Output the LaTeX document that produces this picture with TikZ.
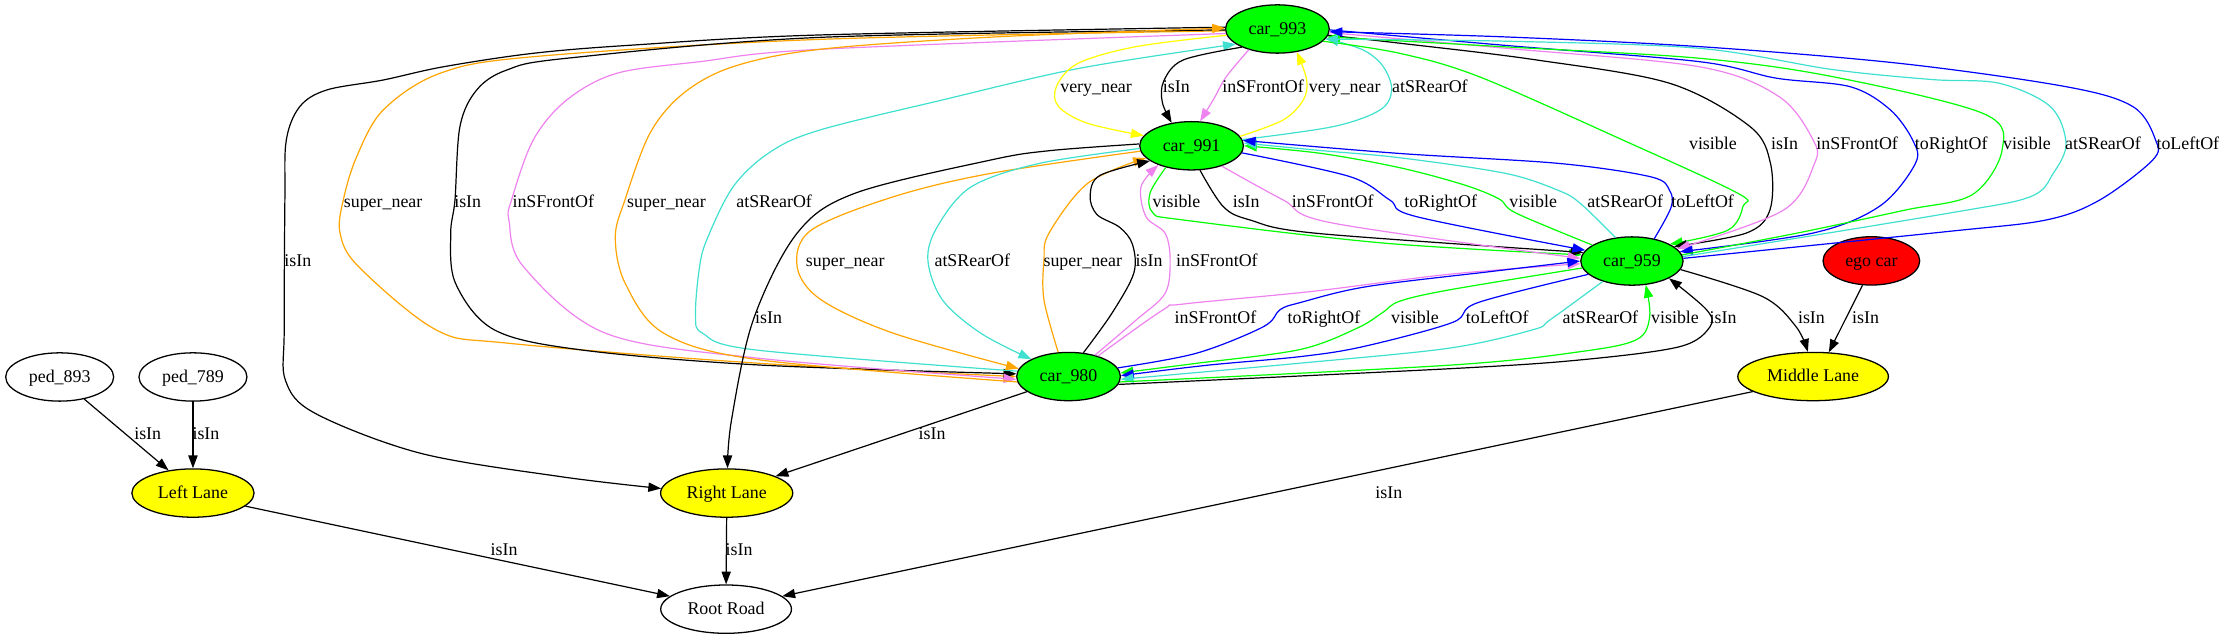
\documentclass[tikz,border=0pt]{standalone}
\usepackage{fontspec}
\setmainfont{Liberation Serif}
\usetikzlibrary{shapes.geometric,arrows.meta}
\definecolor{gvgreen}{HTML}{00FF00}
\definecolor{gvred}{HTML}{FF0000}
\definecolor{gvyellow}{HTML}{FFFF00}
\definecolor{gvorange}{HTML}{FFA500}
\definecolor{gvviolet}{HTML}{EE82EE}
\definecolor{gvturq}{HTML}{40E0D0}
\definecolor{gvblue}{HTML}{0000FF}
\tikzset{
  gnode/.style={ellipse, draw=black, line width=0.9pt, inner sep=0pt, minimum height=34pt,
    text height=9pt, text depth=1.5pt, font=\fontsize{12.6}{14}\selectfont},
  carnode/.style={gnode, fill=gvgreen, minimum width=73pt},
  ge/.style={line width=0.85pt, -{Triangle[length=9pt,width=6.5pt]}},
  elabel/.style={anchor=base west, inner sep=0pt, font=\fontsize{12.6}{14}\selectfont},
}
\newcommand\gedge[2]{\draw[ge,color=#1] plot[smooth,tension=0.55] coordinates {#2};}
\newcommand\elab[4]{\node[elabel] (#1) at (#2,#3) {#4};}
\begin{document}
\begin{tikzpicture}[x=1pt,y=-1pt]
\useasboundingbox (0,0) rectangle (1568,450);
% nodes
\node[carnode] (c993) at (899,20.4) {car\_993};
\node[carnode] (c991) at (838.6,102.6) {car\_991};
\node[carnode, minimum width=72pt] (c959) at (1148.5,183.7) {car\_959};
\node[gnode, fill=gvred, minimum width=68pt] (ego) at (1317,183.6) {ego car};
\node[carnode] (c980) at (752,265) {car\_980};
\node[gnode, fill=gvyellow, minimum width=106pt] (ml) at (1276,265) {Middle Lane};
\node[gnode, fill=white, minimum width=76pt] (p893) at (42,265.3) {ped\_893};
\node[gnode, fill=white, minimum width=76pt] (p789) at (135.8,265.3) {ped\_789};
\node[gnode, fill=gvyellow, minimum width=86pt] (ll) at (135.8,347) {Left Lane};
\node[gnode, fill=gvyellow, minimum width=93pt] (rl) at (511.4,347) {Right Lane};
\node[gnode, fill=white, minimum width=92pt] (rr) at (511,428.7) {Root Road};

% ---- car_993 <-> car_980 / Right Lane (left loops)
\gedge{black}{(c993.178) (577,24.6) (445.7,31.7) (375.3,37.5) (312,47) (269.7,56.3) (230,63.3) (211,75) (201.5,98.5) (200.5,140) (200,232) (201,268) (222,291) (296,319) (395,335.5) (rl.176)}
\gedge{gvorange}{(c993.182) (577,27.7) (375.3,39.9) (309.6,51.6) (269.7,77.4) (251,110.3) (241.6,140.7) (239.3,164) (252.4,187.7) (307,232.2) (358.2,241.6) (534.8,255.7) (c980.180)}
\gedge{black}{(c993.181) (577,26.3) (398.8,41) (356.6,49.3) (335.5,63.3) (323.7,89) (320.2,140.7) (317.2,164.2) (320.6,199.4) (348,232.2) (409.4,246.3) (534.8,256.9) (c980.177)}
\gedge{gvviolet}{(c993.185) (577,34.7) (492.6,43.4) (434,51.6) (398.8,70.4) (375.3,98.5) (360,140.7) (358.2,155) (368.4,187.7) (426.4,234.6) (534.8,252.2) (c980.183)}
\gedge{gvorange}{(c980.186) (534.8,253.3) (467.3,234.6) (440,199.4) (433,167) (439.8,140.7) (457.4,93.8) (480.9,65.7) (516,46.9) (577,34.7) (700,26) (c993.179)}
\gedge{gvturq}{(c980.174) (532,246.3) (494.6,234.6) (489.5,222) (492,190) (497.3,169) (516,131.4) (542,107) (577,91.5) (663,70.4) (760,48) (c993.200)}

% ---- car_993 <-> car_991
\gedge{gvyellow}{(c993.187) (799.6,32.8) (758.6,44.6) (743.4,61) (745,75) (765.5,86.8) (c991.168)}
\gedge{black}{(c993.207) (832.7,42.2) (819,57) (818,72) (c991.131)}
\gedge{gvviolet}{(c993.216) (863,54) (854,70) (c991.71)}
\gedge{gvyellow}{(c991.11) (903.1,84.4) (917.2,70.4) (919.6,56.3) (c993.310)}
\gedge{gvturq}{(c991.7) (938.3,89.1) (971.2,77.4) (979.4,63.3) (973.5,46.9) (959.4,35.2) (c993.349)}

% ---- car_991 -> Right Lane, car_991 <-> car_980
\gedge{black}{(c991.178) (739,106) (697.3,112.6) (601.7,136) (560.9,164.2) (530.1,225.2) (514.8,295.6) (rl.88)}
\gedge{gvorange}{(c991.186) (697.3,122) (629,138.4) (571,161.9) (561,187.7) (577.9,211) (629,234.6) (c980.171)}
\gedge{gvorange}{(c980.113) (734.7,211) (734.7,183) (738.2,164.2) (765.5,129) (c991.195)}
\gedge{gvturq}{(c991.183) (731.4,115) (683.6,131.4) (659.7,159.5) (653,183) (663.2,211) (690.4,234.6) (c980.155)}
\gedge{black}{(c980.58) (782.5,220.5) (797.9,192.3) (797,172) (788,160) (772,151) (767.2,138) (774,123.5) (c991.200)}
\gedge{gvviolet}{(c980.39) (799.6,225.2) (820,206.4) (823.5,183) (820,164.2) (806.5,152.5) (803,131.4) (c991.210)}

% ---- car_991 <-> car_959
\gedge{gvgreen}{(c991.220) (809.3,136) (811.6,150) (832.6,154.8) (973,171) (c959.173)}
\gedge{black}{(c991.289) (860.9,145.4) (879.7,154.8) (926.6,164.2) (c959.170)}
\gedge{gvviolet}{(c991.326) (903,140.7) (938,157) (c959.177)}
\gedge{gvblue}{(c991.352) (950,124.3) (978,140.7) (997,152.5) (c959.167)}
\gedge{gvgreen}{(c959.158) (1067,150) (1055,140) (1030,130) (985,118) (930,108) (c991.0)}
\gedge{gvturq}{(c959.125) (1112,143) (1096.7,134) (1059.5,122) (985,111) (930,106) (c991.3)}
\gedge{gvblue}{(c959.45) (1176,146) (1175,134) (1162,124.5) (1097,115) (985,108) (c991.6)}

% ---- car_993 <-> car_959 (right loops)
\gedge{gvgreen}{(c993.345) (985,37.5) (1041,54) (1142,98.5) (1223,136) (1226.7,145) (1216,162) (c959.24)}
\gedge{black}{(c993.353) (986,30.5) (1080,42) (1175,58.6) (1231.5,89) (1246,115) (1245.6,147.8) (1229,164) (c959.19)}
\gedge{gvviolet}{(c993.356) (1060,34) (1196,47) (1252,68) (1276,98.5) (1277,115) (1255,148) (c959.15)}
\gedge{gvblue}{(c993.359) (1060,32) (1196,43.4) (1250,55) (1302,61) (1330,77) (1346,98.5) (1348,115) (1323,145) (1276,164) (c959.11)}
\gedge{gvgreen}{(c959.7) (1264,164.2) (1340,148) (1388,137) (1409,105.6) (1396,80) (1290,54) (1196,41) (1060,33) (c993.351)}
\gedge{gvturq}{(c959.5) (1371.6,150) (1429,138.4) (1445,122) (1454,101) (1443,75) (1407,58.6) (1360,56) (1290,49) (1196,34) (1060,29) (c993.348)}
\gedge{gvblue}{(c959.3) (1370,163) (1440,154.8) (1477.8,140.7) (1515,112.6) (1517,98.5) (1501,75) (1454,61) (1337,44.6) (1196,32.8) (1060,26) (c993.357)}

% ---- car_980 <-> car_959
\gedge{gvviolet}{(c980.35) (818.6,218) (832.6,214) (924,205) (1020,193) (c959.183)}
\gedge{gvblue}{(c980.10) (842,248.6) (889,230) (900.8,218) (914.8,213) (962,201.7) (1050,191) (c959.180)}
\gedge{gvgreen}{(c959.188) (1020,204) (985,212) (973,220) (955,231) (914.8,246) (842,255.7) (c980.4)}
\gedge{gvblue}{(c959.197) (1040,213) (1022,227) (959,244) (914.8,251) (850,257) (c980.1)}
\gedge{gvturq}{(c959.215) (1091,225) (1079,232) (1020,245) (914.8,255.6) (c980.357)}
\gedge{gvgreen}{(c980.354) (1020,257) (1112,247.5) (1151.8,239) (1161,222.9) (c959.300)}
\gedge{black}{(c980.351) (1020,259.5) (1112,253.3) (1182,244) (1203.4,230) (1201,218) (c959.335)}

% ---- lanes and road
\gedge{black}{(c959.350) (1240.6,208.8) (1264,229.9) (ml.102)}
\draw[ge] (ego.250) -- (ml.57);
\draw[ge] (c980.200) -- (rl.19);
\draw[ge] (p893.318) -- (ll.137);
\draw[ge] (p789.south) -- (ll.north);
\draw[ge] (ll.346) -- (rr.167);
\draw[ge] (rl.south) -- (rr.north);
\draw[ge] (ml.194) -- (rr.13);

% ---- labels
\elab{a1}{746}{64.8}{very\_near}
\elab{a2}{818.2}{64.8}{isIn}
\elab{a3}{860}{64.8}{inSFrontOf}
\elab{a4}{921}{64.8}{very\_near}
\elab{a5}{979.5}{64.8}{atSRearOf}
\elab{b1}{1188.5}{105.3}{visible}
\elab{b2}{1246.3}{105.3}{isIn}
\elab{b3}{1278.1}{105.3}{inSFrontOf}
\elab{b4}{1347.5}{105.3}{toRightOf}
\elab{b5}{1409.5}{105.3}{visible}
\elab{b6}{1453.2}{105.3}{atSRearOf}
\elab{b7}{1517.5}{105.3}{toLeftOf}
\elab{c1}{241.8}{146.3}{super\_near}
\elab{c2}{319.5}{146.3}{isIn}
\elab{c3}{360.5}{146.3}{inSFrontOf}
\elab{c4}{441.2}{146.3}{super\_near}
\elab{c5}{518}{146.3}{atSRearOf}
\elab{c6}{811}{146.3}{visible}
\elab{c7}{867.4}{146.3}{isIn}
\elab{c8}{909}{146.3}{inSFrontOf}
\elab{c9}{988.2}{146.3}{toRightOf}
\elab{c10}{1062}{146.3}{visible}
\elab{c11}{1117}{146.3}{atSRearOf}
\elab{c12}{1176}{146.3}{toLeftOf}
\elab{d1}{200}{187.3}{isIn}
\elab{d2}{567}{187.3}{super\_near}
\elab{d3}{657.5}{187.3}{atSRearOf}
\elab{d4}{734.2}{187.3}{super\_near}
\elab{d5}{799}{187.3}{isIn}
\elab{d6}{827.5}{187.3}{inSFrontOf}
\elab{e1}{531.3}{227.8}{isIn}
\elab{e2}{826.5}{227.8}{inSFrontOf}
\elab{e3}{906}{227.8}{toRightOf}
\elab{e4}{978.8}{227.8}{visible}
\elab{e5}{1031.5}{227.8}{toLeftOf}
\elab{e6}{1099.5}{227.8}{atSRearOf}
\elab{e7}{1161.8}{227.8}{visible}
\elab{e8}{1203}{227.8}{isIn}
\elab{e9}{1265.2}{227.8}{isIn}
\elab{e10}{1303.3}{227.8}{isIn}
\elab{f1}{94.3}{309.2}{isIn}
\elab{f2}{135.3}{309.2}{isIn}
\elab{f3}{646.3}{309.2}{isIn}
\elab{g1}{967.8}{351}{isIn}
\elab{h1}{345.1}{390.8}{isIn}
\elab{h2}{510.5}{390.8}{isIn}
\end{tikzpicture}
\end{document}
